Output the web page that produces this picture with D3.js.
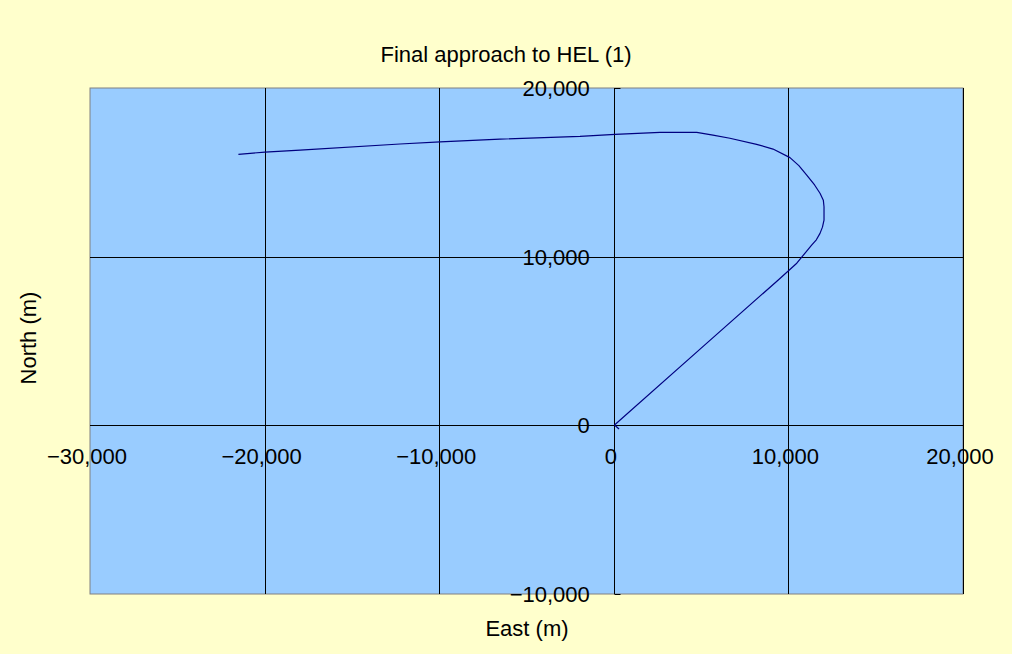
<!DOCTYPE html>
<html>
<head>
<meta charset="utf-8">
<script src="https://cdn.jsdelivr.net/npm/d3@7"></script>
<style>
  html, body { margin: 0; padding: 0; background: #FFFFCC; }
  svg { display: block; }
  text { font-family: "Liberation Sans", Arial, sans-serif; fill: #000; }
</style>
</head>
<body>
<svg id="chart" width="1012" height="654"></svg>
<script>
// ---- data ----
const title = "Final approach to HEL (1)";
const xTitle = "East (m)";
const yTitle = "North (m)";
const xTicks = [-30000, -20000, -10000, 0, 10000, 20000];
const yTicks = [-10000, 0, 10000, 20000];
const east  = [-21500, -19980, -17970, -12250, -9950, -6520, -1940, 70, 2650, 4750, 5680, 6650, 8180, 9120, 10090, 10600, 11050, 11500, 11810, 12000, 12040, 12040, 11950, 11810, 11600, 11330, 10480, 9420, 4940, 40, 300];
const north = [16070, 16200, 16320, 16680, 16800, 16970, 17130, 17250, 17370, 17370, 17210, 17020, 16660, 16380, 15870, 15400, 14840, 14250, 13760, 13350, 12960, 12170, 11750, 11380, 11000, 10690, 9610, 8620, 4520, 20, -220];

// ---- layout ----
const svg = d3.select("#chart");
const L = 90, R = 963, T = 88, B = 594;
const x = d3.scaleLinear().domain([-30000, 20000]).range([L, R]);
const y = d3.scaleLinear().domain([-10000, 20000]).range([B, T]);
const fmt = d3.format(",");

// plot area
svg.append("rect").attr("x", L).attr("y", T).attr("width", R - L).attr("height", B - T)
  .attr("fill", "#99CCFF").attr("stroke", "#808080").attr("stroke-width", 1);

// vertical gridlines
svg.append("g").selectAll("line").data(xTicks.filter(d => d !== -30000 && d !== 0)).join("line")
  .attr("x1", d => Math.round(x(d)) + 0.5).attr("x2", d => Math.round(x(d)) + 0.5)
  .attr("y1", T).attr("y2", B).attr("stroke", "#000").attr("stroke-width", 1);
// horizontal gridlines
svg.append("g").selectAll("line").data([10000]).join("line")
  .attr("x1", L).attr("x2", R)
  .attr("y1", d => Math.round(y(d)) + 0.5).attr("y2", d => Math.round(y(d)) + 0.5)
  .attr("stroke", "#000").attr("stroke-width", 1);

// axes crossing at 0
const x0 = Math.round(x(0)) + 0.5, y0 = Math.round(y(0)) + 0.5;
svg.append("line").attr("x1", L).attr("x2", R).attr("y1", y0).attr("y2", y0).attr("stroke", "#000");
svg.append("line").attr("x1", x0).attr("x2", x0).attr("y1", T).attr("y2", B).attr("stroke", "#000");
// y ticks (to the right)
svg.append("g").selectAll("line").data(yTicks).join("line")
  .attr("x1", x0).attr("x2", x0 + 6)
  .attr("y1", d => Math.round(y(d)) + 0.5).attr("y2", d => Math.round(y(d)) + 0.5)
  .attr("stroke", "#000");

// tick labels
svg.append("g").selectAll("text").data(xTicks).join("text")
  .attr("x", d => x(d) - 3).attr("y", y(0) + 39)
  .attr("text-anchor", "middle").attr("font-size", 22)
  .text(d => fmt(d).replace("-", "\u2212"));
svg.append("g").selectAll("text").data(yTicks).join("text")
  .attr("x", x(0) - 24).attr("y", d => y(d) + 8)
  .attr("text-anchor", "end").attr("font-size", 22)
  .text(d => fmt(d).replace("-", "\u2212"));

// series line
const pts = east.map((e, i) => [e, north[i]]);
svg.append("path").datum(pts)
  .attr("d", d3.line().x(d => x(d[0])).y(d => y(d[1])))
  .attr("fill", "none").attr("stroke", "#000080").attr("stroke-width", 1.2)
  .attr("stroke-linejoin", "round");

// titles
svg.append("text").attr("x", 506).attr("y", 62).attr("text-anchor", "middle")
  .attr("font-size", 22).text(title);
svg.append("text").attr("x", 527).attr("y", 636).attr("text-anchor", "middle")
  .attr("font-size", 22).text(xTitle);
svg.append("text").attr("transform", "translate(36,338) rotate(-90)").attr("text-anchor", "middle")
  .attr("font-size", 22).text(yTitle);
</script>
</body>
</html>
